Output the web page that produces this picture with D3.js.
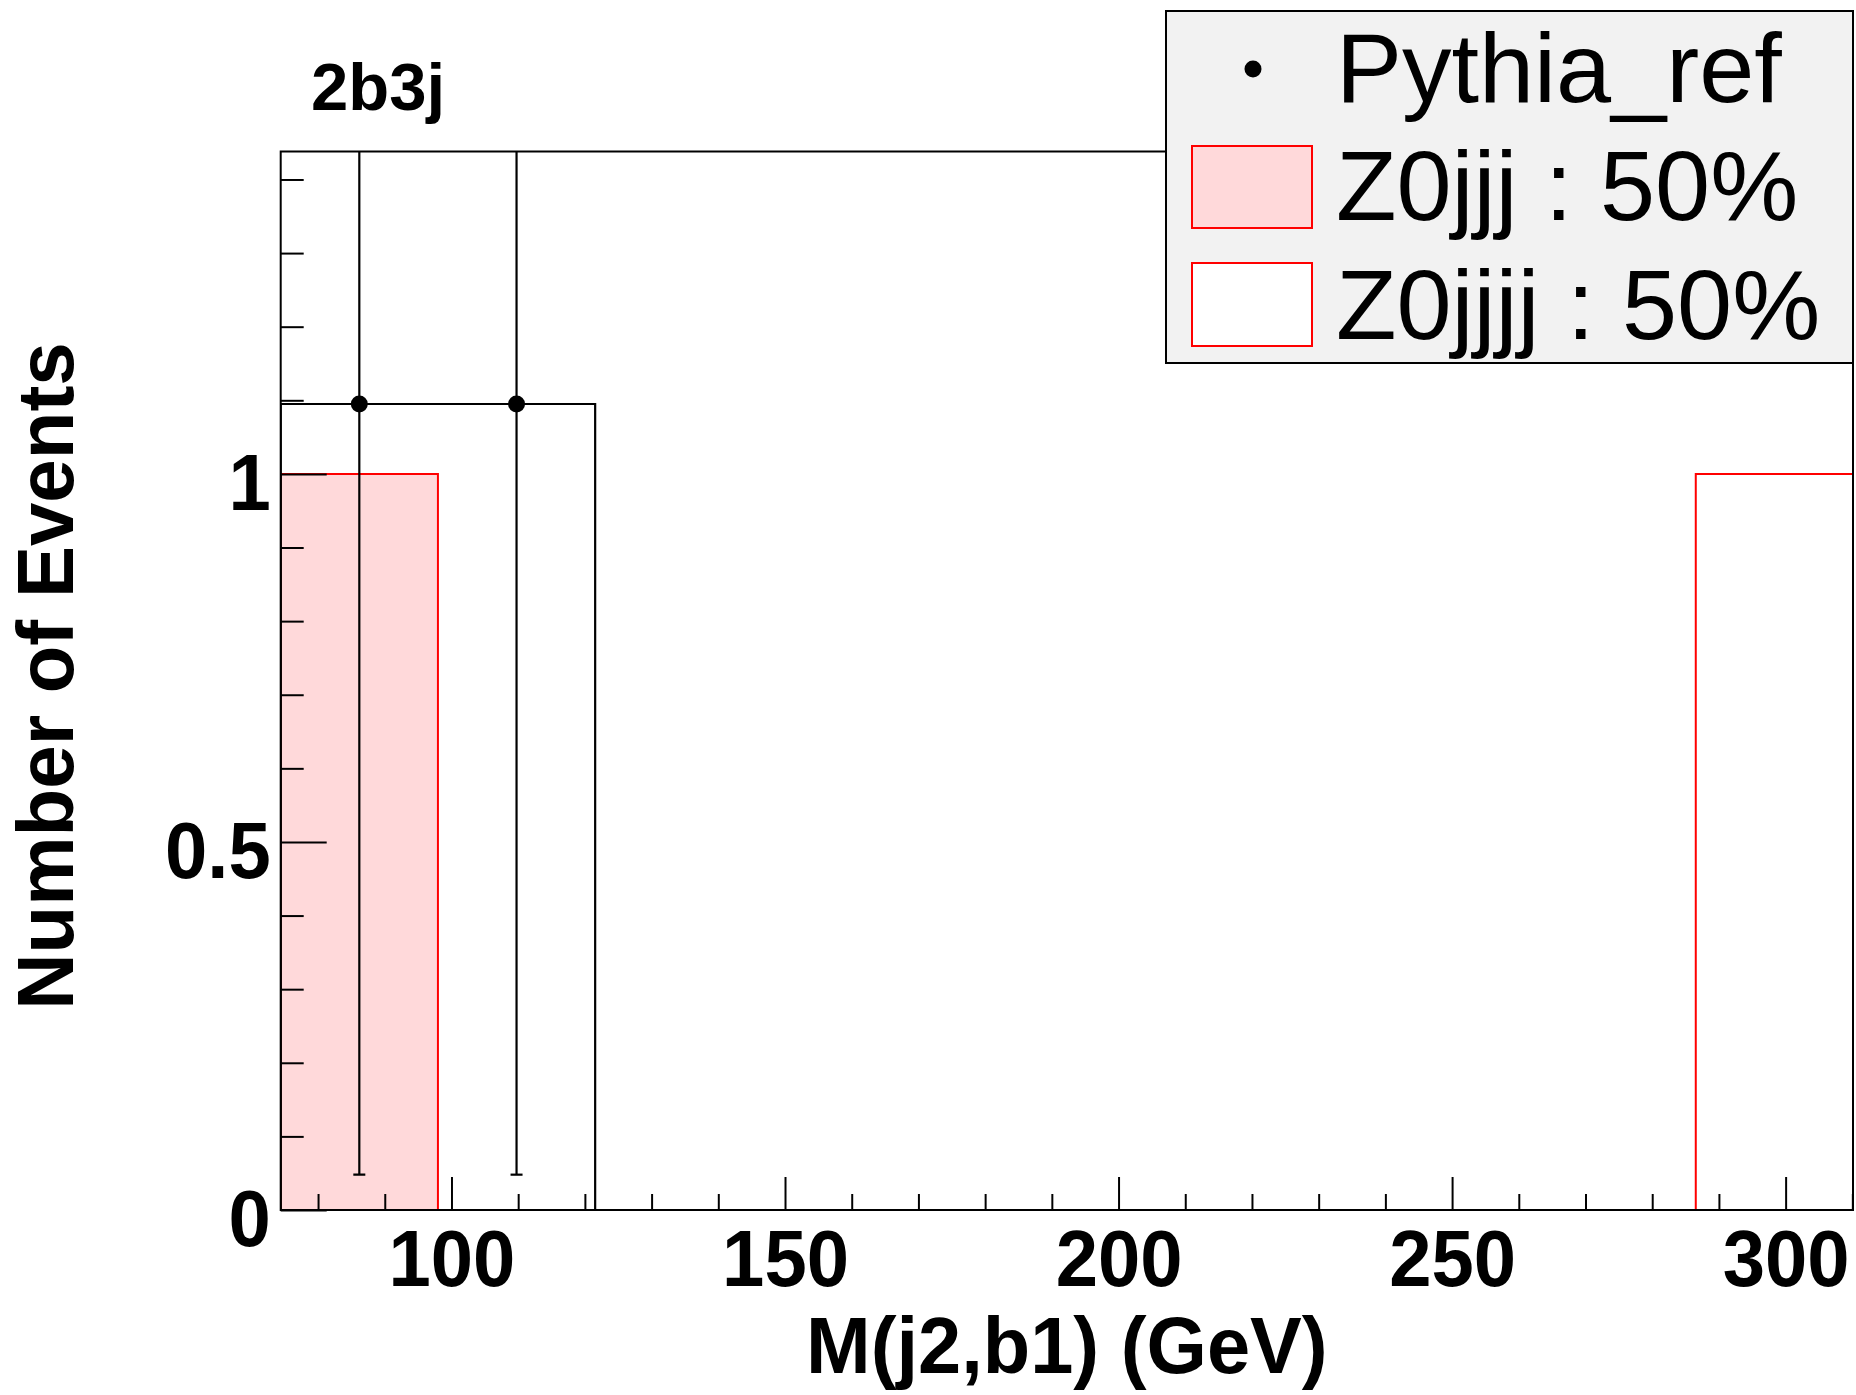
<!DOCTYPE html>
<html>
<head>
<meta charset="utf-8">
<script src="https://cdn.jsdelivr.net/npm/d3@7"></script>
<style>
  html, body { margin: 0; padding: 0; background: #ffffff; }
  svg { display: block; }
  text { font-family: "Liberation Sans", Arial, Helvetica, sans-serif; }
</style>
</head>
<body>
<script>
// ---------------- data ----------------
const xRange = [74.4, 310.1];           // histogram range (GeV)
const nBins = 10;
const pythiaRef = [1.095, 1.095, 0, 0, 0, 0, 0, 0, 0, 0];
const pythiaErr = [1.047, 1.047, 0, 0, 0, 0, 0, 0, 0, 0];
const z0jjj = [1, 0, 0, 0, 0, 0, 0, 0, 0, 0];
const z0jjjj = [0, 0, 0, 0, 0, 0, 0, 0, 0, 1];
const yMax = 1.438;
const xMajorTicks = [100, 150, 200, 250, 300];
const xMinorTicks = [80, 90, 110, 120, 130, 140, 160, 170, 180, 190, 210, 220, 230, 240, 260, 270, 280, 290, 310];
const yMajorTicks = [0, 0.5, 1];
const yMinorTicks = [0.1, 0.2, 0.3, 0.4, 0.6, 0.7, 0.8, 0.9, 1.1, 1.2, 1.3, 1.4];
const yMajorLabels = ["0", "0.5", "1"];
const legendLabels = ["Pythia_ref", "Z0jjj : 50%", "Z0jjjj : 50%"];
const titleText = "2b3j";
const xTitle = "M(j2,b1) (GeV)";
const yTitle = "Number of Events";

// ---------------- layout ----------------
const W = 1856, H = 1395;
const frame = { left: 280.7, right: 1853, top: 151.5, bottom: 1210 };
const pink = "#ffd9da", red = "#ff0000";

const svg = d3.select("body").append("svg").attr("width", W).attr("height", H);

const x = d3.scaleLinear().domain(xRange).range([frame.left, frame.right]);
const y = d3.scaleLinear().domain([0, yMax]).range([frame.bottom, frame.top]);

const binW = (xRange[1] - xRange[0]) / nBins;
const lowEdge = i => xRange[0] + i * binW;
const center = i => xRange[0] + (i + 0.5) * binW;

svg.append("defs").append("clipPath").attr("id", "plotclip")
  .append("rect").attr("x", frame.left).attr("y", frame.top)
  .attr("width", frame.right - frame.left).attr("height", frame.bottom - frame.top);

const plot = svg.append("g").attr("clip-path", "url(#plotclip)");

function stepPoints(vals) {
  const pts = [[xRange[0], 0]];
  vals.forEach((v, i) => { pts.push([lowEdge(i), v]); pts.push([lowEdge(i + 1), v]); });
  pts.push([xRange[1], 0]);
  return pts;
}
const stepLine = d3.line().x(d => x(d[0])).y(d => y(d[1]));

// Z0jjj filled
plot.append("path").datum(stepPoints(z0jjj))
  .attr("d", stepLine).attr("fill", pink).attr("stroke", "none");
// Z0jjjj (white fill)
plot.append("path").datum(stepPoints(z0jjjj))
  .attr("d", stepLine).attr("fill", "#ffffff").attr("stroke", "none");
// outlines
plot.append("path").datum(stepPoints(z0jjj))
  .attr("d", stepLine).attr("fill", "none").attr("stroke", red).attr("stroke-width", 2);
plot.append("path").datum(stepPoints(z0jjjj))
  .attr("d", stepLine).attr("fill", "none").attr("stroke", red).attr("stroke-width", 2);
// Pythia_ref as histogram line
plot.append("path").datum(stepPoints(pythiaRef))
  .attr("d", stepLine).attr("fill", "none").attr("stroke", "#000").attr("stroke-width", 2.2);

// error bars + markers
const pts = pythiaRef.map((v, i) => ({ x: center(i), v, e: pythiaErr[i] })).filter(d => d.v > 0);
const eb = plot.append("g").attr("stroke", "#000").attr("stroke-width", 2.2);
pts.forEach(d => {
  eb.append("line").attr("x1", x(d.x)).attr("x2", x(d.x))
    .attr("y1", y(d.v - d.e)).attr("y2", y(d.v + d.e));
  eb.append("line").attr("x1", x(d.x) - 6).attr("x2", x(d.x) + 6)
    .attr("y1", y(d.v - d.e)).attr("y2", y(d.v - d.e));
});
plot.selectAll("circle.pt").data(pts).enter().append("circle")
  .attr("class", "pt").attr("cx", d => x(d.x)).attr("cy", d => y(d.v)).attr("r", 8.5).attr("fill", "#000");

// ---------------- axes ----------------
const fontAx = 80;
const yMajAxis = d3.axisLeft(y).tickValues(yMajorTicks).tickSize(-46).tickPadding(10)
  .tickFormat((d, i) => yMajorLabels[i]);
const gy = svg.append("g").attr("transform", `translate(${frame.left},0)`).call(yMajAxis);
const yMinAxis = d3.axisLeft(y).tickValues(yMinorTicks).tickSize(-23).tickFormat("");
const gy2 = svg.append("g").attr("transform", `translate(${frame.left},0)`).call(yMinAxis);

const xMajAxis = d3.axisBottom(x).tickValues(xMajorTicks).tickSize(-33).tickPadding(19).tickFormat(d3.format("d"));
const gx = svg.append("g").attr("transform", `translate(0,${frame.bottom})`).call(xMajAxis);
const xMinAxis = d3.axisBottom(x).tickValues(xMinorTicks).tickSize(-16).tickFormat("");
const gx2 = svg.append("g").attr("transform", `translate(0,${frame.bottom})`).call(xMinAxis);

[gy, gy2, gx, gx2].forEach(g => {
  g.select(".domain").remove();
  g.selectAll(".tick line").attr("stroke", "#000").attr("stroke-width", 2);
});
gy.selectAll(".tick text").attr("font-size", fontAx).attr("font-weight", "bold")
  .attr("fill", "#000").attr("dy", "0.44em");
gx.selectAll(".tick text").attr("font-size", fontAx).attr("font-weight", "bold")
  .attr("fill", "#000");
svg.selectAll(".tick text").style("font-family", '"Liberation Sans", Arial, Helvetica, sans-serif');
// slightly condensed glyphs like the reference
svg.selectAll(".tick text").each(function () {
  const w = this.getComputedTextLength();
  if (w > 0) d3.select(this).attr("textLength", w * 0.95).attr("lengthAdjust", "spacingAndGlyphs");
});

// frame
svg.append("rect").attr("x", frame.left).attr("y", frame.top)
  .attr("width", frame.right - frame.left).attr("height", frame.bottom - frame.top)
  .attr("fill", "none").attr("stroke", "#000").attr("stroke-width", 2);

// titles
svg.append("text").attr("x", 311).attr("y", 110).attr("font-size", 67).attr("font-weight", "bold")
  .attr("fill", "#000").text(titleText);
svg.append("text").attr("x", (frame.left + frame.right) / 2).attr("y", 1373)
  .attr("text-anchor", "middle").attr("font-size", 80).attr("font-weight", "bold")
  .attr("fill", "#000").text(xTitle)
  .each(function () { d3.select(this).attr("textLength", this.getComputedTextLength() * 0.97).attr("lengthAdjust", "spacingAndGlyphs"); });
svg.append("text").attr("transform", "translate(73,676) rotate(-90)")
  .attr("text-anchor", "middle").attr("font-size", 80).attr("font-weight", "bold")
  .attr("fill", "#000").text(yTitle)
  .each(function () { d3.select(this).attr("textLength", this.getComputedTextLength() * 0.975).attr("lengthAdjust", "spacingAndGlyphs"); });

// ---------------- legend ----------------
const lg = svg.append("g");
lg.append("rect").attr("x", 1166).attr("y", 11).attr("width", 1853 - 1166).attr("height", 363 - 11)
  .attr("fill", "#f2f2f2").attr("stroke", "#000").attr("stroke-width", 2);
const rowsY = [69, 187, 304.5];
const baselines = [102, 220, 339];
lg.append("circle").attr("cx", 1253).attr("cy", rowsY[0]).attr("r", 8.5).attr("fill", "#000");
lg.append("rect").attr("x", 1192).attr("y", 146).attr("width", 120).attr("height", 82)
  .attr("fill", pink).attr("stroke", red).attr("stroke-width", 2);
lg.append("rect").attr("x", 1192).attr("y", 263).attr("width", 120).attr("height", 83)
  .attr("fill", "#ffffff").attr("stroke", red).attr("stroke-width", 2);
lg.selectAll("text.leg").data(legendLabels).enter().append("text")
  .attr("class", "leg").attr("x", 1336).attr("y", (d, i) => baselines[i])
  .attr("font-size", 99).attr("fill", "#000").text(d => d);
</script>
</body>
</html>
